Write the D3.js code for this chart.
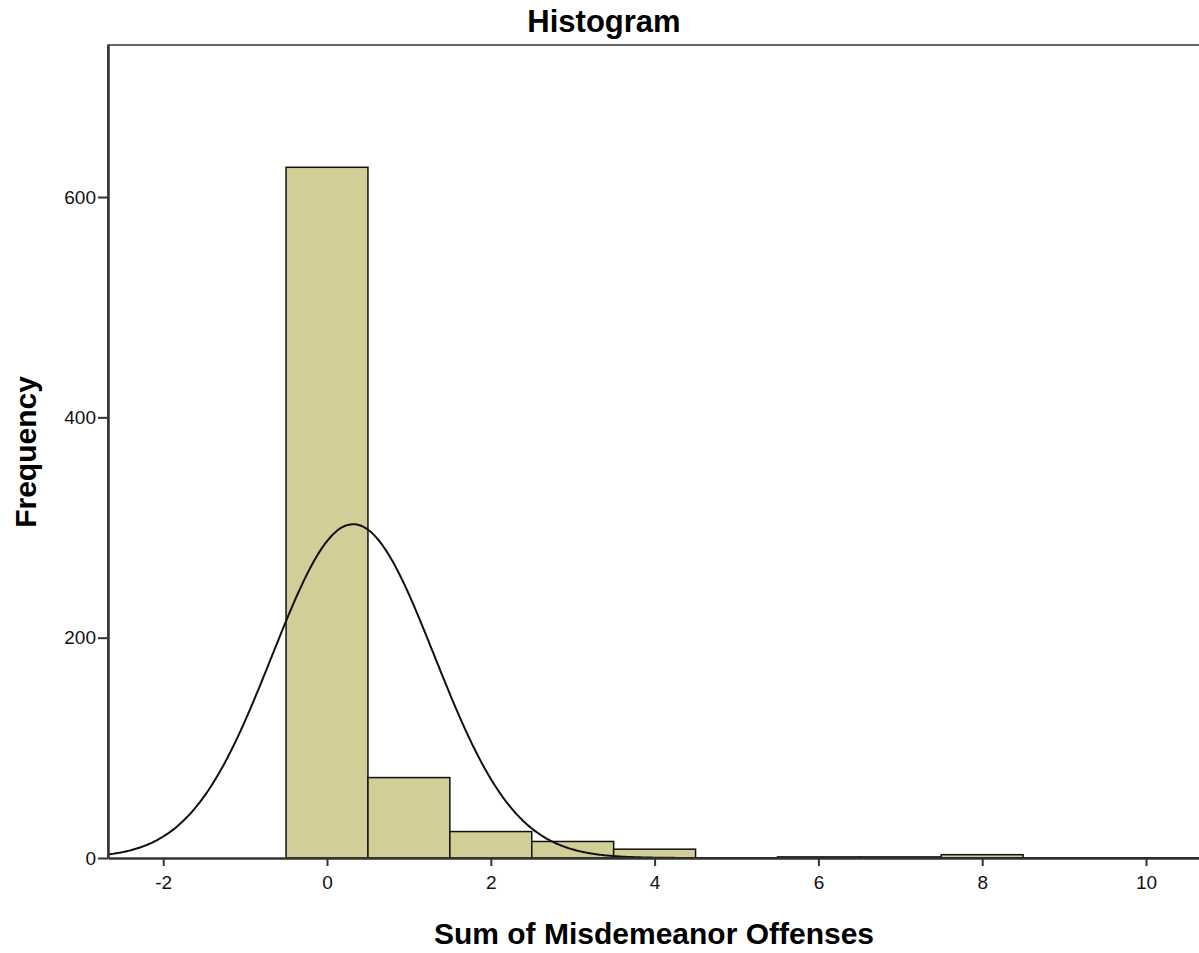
<!DOCTYPE html>
<html>
<head>
<meta charset="utf-8">
<script src="https://cdn.jsdelivr.net/npm/d3@7"></script>
<style>
  body { margin: 0; background: #fff; }
  text { font-family: "Liberation Sans", Arial, sans-serif; }
</style>
</head>
<body>
<svg id="drawing_region"></svg>
<script>
// histogram bins (centre of each unit-wide bin) and their counts
const bins = [0, 1, 2, 3, 4, 5, 6, 7, 8];
const counts = [627, 73, 24, 15, 8, 0, 1, 1, 3];
const xticks = [-2, 0, 2, 4, 6, 8, 10];
const yticks = [0, 200, 400, 600];
// fitted normal curve parameters
const curve_mean = 0.32;
const curve_sd = 0.99;

const config = {
    width: 1199,
    height: 953,
    margin: {top: 45, right: 0, bottom: 95, left: 108}
};

const svg = d3.select('#drawing_region')
    .attr('width', config.width)
    .attr('height', config.height);

const inner_width = config.width - config.margin.left - config.margin.right;
const inner_height = config.height - config.margin.top - config.margin.bottom;

const chart = svg.append('g')
    .attr('transform', `translate(${config.margin.left}, ${config.margin.top})`);

const xscale = d3.scaleLinear()
    .domain([-2.674, 10.647])
    .range([0, inner_width]);

const yscale = d3.scaleLinear()
    .domain([0, 738])
    .range([inner_height, 0]);

const data = bins.map((b, i) => ({bin: b, count: counts[i]}));

// frame (top and left sides)
chart.append('path')
    .attr('d', `M0,${inner_height} V0 H${inner_width + 5}`)
    .attr('fill', 'none')
    .attr('stroke', '#333')
    .attr('stroke-width', 1.5);

// bars
chart.selectAll('rect.bar')
    .data(data.filter(d => d.count > 0))
    .enter()
    .append('rect')
    .attr('class', 'bar')
    .attr('x', d => xscale(d.bin - 0.5))
    .attr('width', d => xscale(d.bin + 0.5) - xscale(d.bin - 0.5))
    .attr('y', d => yscale(d.count))
    .attr('height', d => yscale(0) - yscale(d.count))
    .attr('fill', '#d3ce97')
    .attr('stroke', '#111')
    .attr('stroke-width', 1.5);

// normal curve
const n_total = d3.sum(counts);
const xs = d3.range(xscale.domain()[0], xscale.domain()[1], 0.02);
const density = x => n_total / (curve_sd * Math.sqrt(2 * Math.PI)) *
    Math.exp(-0.5 * Math.pow((x - curve_mean) / curve_sd, 2));

const line = d3.line()
    .x(d => xscale(d))
    .y(d => yscale(density(d)))
    .curve(d3.curveBasis);

chart.append('path')
    .attr('d', line(xs))
    .attr('fill', 'none')
    .attr('stroke', '#111')
    .attr('stroke-width', 2);

// axes
const xaxis = d3.axisBottom(xscale)
    .tickValues(xticks)
    .tickFormat(d => String(d))
    .tickSize(8)
    .tickSizeOuter(0)
    .tickPadding(10);

const yaxis = d3.axisLeft(yscale)
    .tickValues(yticks)
    .tickFormat(d => String(d))
    .tickSize(10)
    .tickSizeOuter(0)
    .tickPadding(2);

const xaxis_group = chart.append('g')
    .attr('transform', `translate(0, ${inner_height})`)
    .call(xaxis);

const yaxis_group = chart.append('g')
    .call(yaxis);

[xaxis_group, yaxis_group].forEach(g => {
    g.select('.domain').attr('stroke', '#333').attr('stroke-width', 2.5);
    g.selectAll('.tick line').attr('stroke', '#333').attr('stroke-width', 2);
    g.selectAll('.tick text')
        .attr('fill', '#111')
        .style('font-size', '19px')
        .style('font-family', '"Liberation Sans", Arial, sans-serif');
});

// titles
svg.append('text')
    .attr('x', 604)
    .attr('y', 32)
    .attr('text-anchor', 'middle')
    .style('font-size', '31px')
    .style('font-weight', 'bold')
    .text('Histogram');

svg.append('text')
    .attr('x', 654)
    .attr('y', 944)
    .attr('text-anchor', 'middle')
    .style('font-size', '30px')
    .style('font-weight', 'bold')
    .text('Sum of Misdemeanor Offenses');

svg.append('text')
    .attr('transform', 'translate(36, 452) rotate(-90)')
    .attr('text-anchor', 'middle')
    .style('font-size', '30px')
    .style('font-weight', 'bold')
    .text('Frequency');
</script>
</body>
</html>
